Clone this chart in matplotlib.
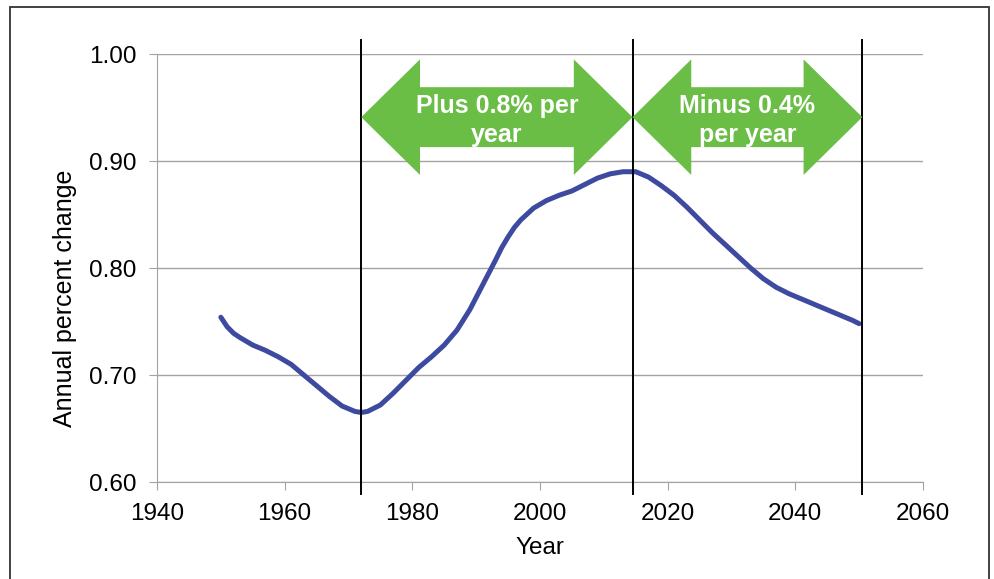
import matplotlib
matplotlib.use("Agg")
import matplotlib.pyplot as plt
from matplotlib.patches import Polygon, Rectangle

plt.rcParams["font.family"] = ["Liberation Sans", "DejaVu Sans"]

# values
years = [1950, 1951, 1952, 1953, 1955, 1957, 1959, 1961, 1963, 1965,
         1967, 1969, 1971, 1972, 1973, 1975, 1977, 1979, 1981, 1983,
         1985, 1987, 1989, 1991, 1993, 1994, 1995, 1996, 1997, 1999,
         2001, 2003, 2005, 2007, 2009, 2011, 2013, 2015, 2017, 2019,
         2021, 2023, 2025, 2027, 2029, 2031, 2033, 2035, 2037, 2039,
         2041, 2043, 2045, 2047, 2049, 2050]
pct = [0.754, 0.745, 0.739, 0.735, 0.728, 0.723, 0.717, 0.710, 0.700, 0.690,
       0.680, 0.671, 0.666, 0.665, 0.666, 0.672, 0.683, 0.695, 0.707, 0.717,
       0.728, 0.742, 0.761, 0.784, 0.807, 0.819, 0.829, 0.838, 0.845, 0.856,
       0.863, 0.868, 0.872, 0.878, 0.884, 0.888, 0.890, 0.890, 0.885, 0.877,
       0.868, 0.857, 0.845, 0.833, 0.822, 0.811, 0.800, 0.790, 0.782, 0.776,
       0.771, 0.766, 0.761, 0.756, 0.751, 0.748]

marks = [1972, 2014.5, 2050.5]
labels = ["Plus 0.8% per\nyear", "Minus 0.4%\nper year"]

xticks = [1940, 1960, 1980, 2000, 2020, 2040, 2060]
yticks = [0.60, 0.70, 0.80, 0.90, 1.00]

C_LINE = "#3E49A0"
C_GREEN = "#6ABD45"
C_GRID = "#A3A3A3"

fig = plt.figure(figsize=(9.95, 5.79), dpi=100)
ax = fig.add_axes([0.1578, 0.1675, 0.7698, 0.7392])

# outer frame
fig.patches.append(Rectangle((10 / 995, -0.02), 979 / 995, 1 - 7 / 579 + 0.02,
                             transform=fig.transFigure, fill=False,
                             edgecolor="#333333", lw=1.3))

ax.set_xlim(1940, 2060)
ax.set_ylim(0.60, 1.00)
ax.set_xticks(xticks)
ax.set_yticks(yticks)
ax.set_yticklabels([f"{v:.2f}" for v in yticks])
ax.grid(axis="y", color=C_GRID, lw=1.0)
ax.set_axisbelow(True)
for s in ("top", "right"):
    ax.spines[s].set_visible(False)
for s in ("left", "bottom"):
    ax.spines[s].set_color(C_GRID)
ax.tick_params(direction="out", length=6, color=C_GRID, labelsize=17.5, pad=9)

ax.set_xlabel("Year", fontsize=17.5, labelpad=9)
ax.set_ylabel("Annual percent change", fontsize=18)
ax.yaxis.set_label_coords(-0.105, 0.43)

ax.plot(years, pct, color=C_LINE, lw=3.6, solid_capstyle="round",
        solid_joinstyle="round", zorder=3)

for m in marks:
    ax.plot([m, m], [0.589, 1.013], color="black", lw=1.4, clip_on=False, zorder=4)

# green double arrows between the marker lines
yc, head, shaft, hl = 0.941, 0.054, 0.028, 9.2
for (x0, x1), txt in zip(zip(marks[:-1], marks[1:]), labels):
    pts = [(x0, yc), (x0 + hl, yc + head), (x0 + hl, yc + shaft),
           (x1 - hl, yc + shaft), (x1 - hl, yc + head), (x1, yc),
           (x1 - hl, yc - head), (x1 - hl, yc - shaft), (x0 + hl, yc - shaft),
           (x0 + hl, yc - head)]
    ax.add_patch(Polygon(pts, closed=True, facecolor=C_GREEN, edgecolor="none",
                         zorder=5, clip_on=False))
    ax.text((x0 + x1) / 2, yc - 0.003, txt, ha="center", va="center",
            color="white", fontsize=18, fontweight="bold", linespacing=1.25,
            zorder=6)

fig.savefig("out.png", dpi=100)
